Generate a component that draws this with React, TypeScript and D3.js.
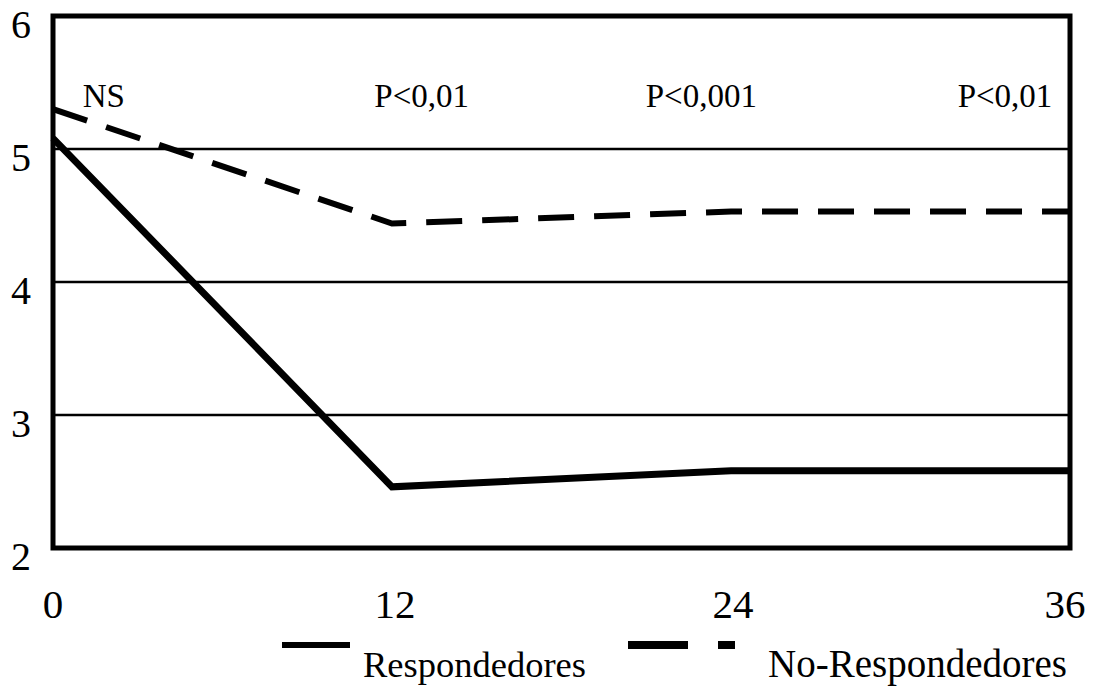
import React from "react";
import * as d3 from "d3";

const months = [0, 12, 24, 36];
const respondedores = [5.08, 2.46, 2.58, 2.58];
const noRespondedores = [5.3, 4.44, 4.53, 4.53];
const yTicks = [2, 3, 4, 5, 6];
const xTicks = [0, 12, 24, 36];
const annotations = ["NS", "P<0,01", "P<0,001", "P<0,01"];
const annotationX = [1.8, 13.05, 22.95, 33.7];
const legendLabels = ["Respondedores", "No-Respondedores"];

const W = 1102;
const H = 687;
const left = 53;
const right = 1070;
const top = 16;
const bottom = 548;
const FONT = "'Liberation Serif', Tinos, 'Times New Roman', serif";

export default function App() {
  const x = d3.scaleLinear().domain([0, 36]).range([left, right]);
  const y = d3.scaleLinear().domain([2, 6]).range([bottom, top]);
  const line = d3
    .line<number>()
    .x((_, i) => x(months[i]))
    .y((d) => y(d));

  const ts = (size: number): React.CSSProperties => ({ fontFamily: FONT, fontSize: size });
  const xOffset: Record<number, number> = { 0: 0, 12: 3, 24: 2, 36: -5 };

  return (
    <svg
      width={W}
      height={H}
      style={{ position: "absolute", left: 0, top: 0, background: "#fff" }}
    >
      {yTicks
        .filter((t) => t > 2 && t < 6)
        .map((t) => (
          <line key={t} x1={left} x2={right} y1={y(t)} y2={y(t)} stroke="#000" strokeWidth={2.5} />
        ))}
      <path
        d={line(noRespondedores) || ""}
        fill="none"
        stroke="#000"
        strokeWidth={6}
        strokeDasharray="36,20"
      />
      <path d={line(respondedores) || ""} fill="none" stroke="#000" strokeWidth={7} />
      <rect
        x={left}
        y={top}
        width={right - left}
        height={bottom - top}
        fill="none"
        stroke="#000"
        strokeWidth={5}
      />
      {yTicks.map((t) => (
        <text key={t} x={31} y={y(t) + 22} textAnchor="end" style={ts(40)}>
          {t}
        </text>
      ))}
      {xTicks.map((t) => (
        <text key={t} x={x(t) + xOffset[t]} y={618} textAnchor="middle" style={ts(41)}>
          {t}
        </text>
      ))}
      {annotations.map((a, i) => (
        <text key={i} x={x(annotationX[i])} y={107} textAnchor="middle" style={ts(33)}>
          {a}
        </text>
      ))}
      <line x1={282} x2={350} y1={645} y2={645} stroke="#000" strokeWidth={6} />
      <text x={363} y={677} style={ts(36.5)}>
        {legendLabels[0]}
      </text>
      <line x1={628} x2={688} y1={645} y2={645} stroke="#000" strokeWidth={8} />
      <line x1={718} x2={735} y1={645} y2={645} stroke="#000" strokeWidth={8} />
      <text x={768} y={677} style={ts(39)}>
        {legendLabels[1]}
      </text>
    </svg>
  );
}
